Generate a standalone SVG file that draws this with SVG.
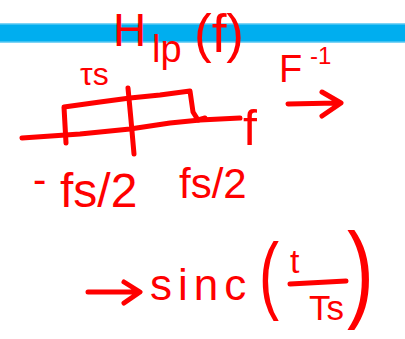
<svg xmlns="http://www.w3.org/2000/svg" width="405" height="339" viewBox="0 0 405 339">
<style>
.ink{fill:none;stroke:#ff0000;stroke-width:5;stroke-linecap:round;stroke-linejoin:round}
.t{fill:#ff0000;font-family:"Liberation Sans","DejaVu Sans",sans-serif}
</style>
<rect x="0" y="0" width="405" height="339" fill="#ffffff"/>
<rect x="0" y="23" width="405" height="20" fill="#00aeef"/>
<rect x="0" y="23" width="405" height="1.5" fill="#7fd4f5"/>
<rect x="0" y="41.5" width="405" height="1.5" fill="#7fd4f5"/>
<g id="title">
<text class="t" x="113" y="46" font-size="46">H</text>
<text class="t" x="152" y="62" font-size="38">lp</text>
<text class="t" x="194" y="52" font-size="53">(f)</text>
</g>
<g id="plot">
<path class="ink" d="M22,138 L80,134 L130,129 L170,123 L200,120 L240,118"/>
<path class="ink" d="M66,143 L64,107 L100,102 L130,98 L160,95 L190,91 L193,112 L198,120 L205,118"/>
<path class="ink" d="M128,88 L131,120 L134,154"/>
<text class="t" x="80" y="85" font-size="32">τs</text>
<text class="t" x="243" y="145" font-size="50">f</text>
<text class="t" x="33" y="193" font-size="40">-</text>
<text class="t" x="60" y="207" font-size="48">fs/2</text>
<text class="t" x="179" y="198" font-size="42">fs/2</text>
</g>
<g id="inverse">
<text class="t" x="279" y="82" font-size="38">F</text>
<text class="t" x="310" y="64" font-size="24">-1</text>
<path class="ink" d="M288,104 L337,103 M322,92 L341,103 L322,116"/>
</g>
<g id="result">
<path class="ink" d="M88,292 L138,292 M124,282 L140,292 L124,303"/>
<text class="t" x="150" y="300" font-size="44" letter-spacing="6">sinc</text>
<text class="t" x="259" y="303" font-size="86" transform="translate(259 303) scale(0.7 1) translate(-259 -303)">(</text>
<text class="t" x="290" y="273" font-size="34">t</text>
<path class="ink" d="M290,284 L346,281"/>
<text class="t" x="309" y="320" font-size="35">Ts</text>
<text class="t" x="347" y="308" font-size="108" transform="translate(347 308) scale(0.75 1) translate(-347 -308)">)</text>
</g>
</svg>
